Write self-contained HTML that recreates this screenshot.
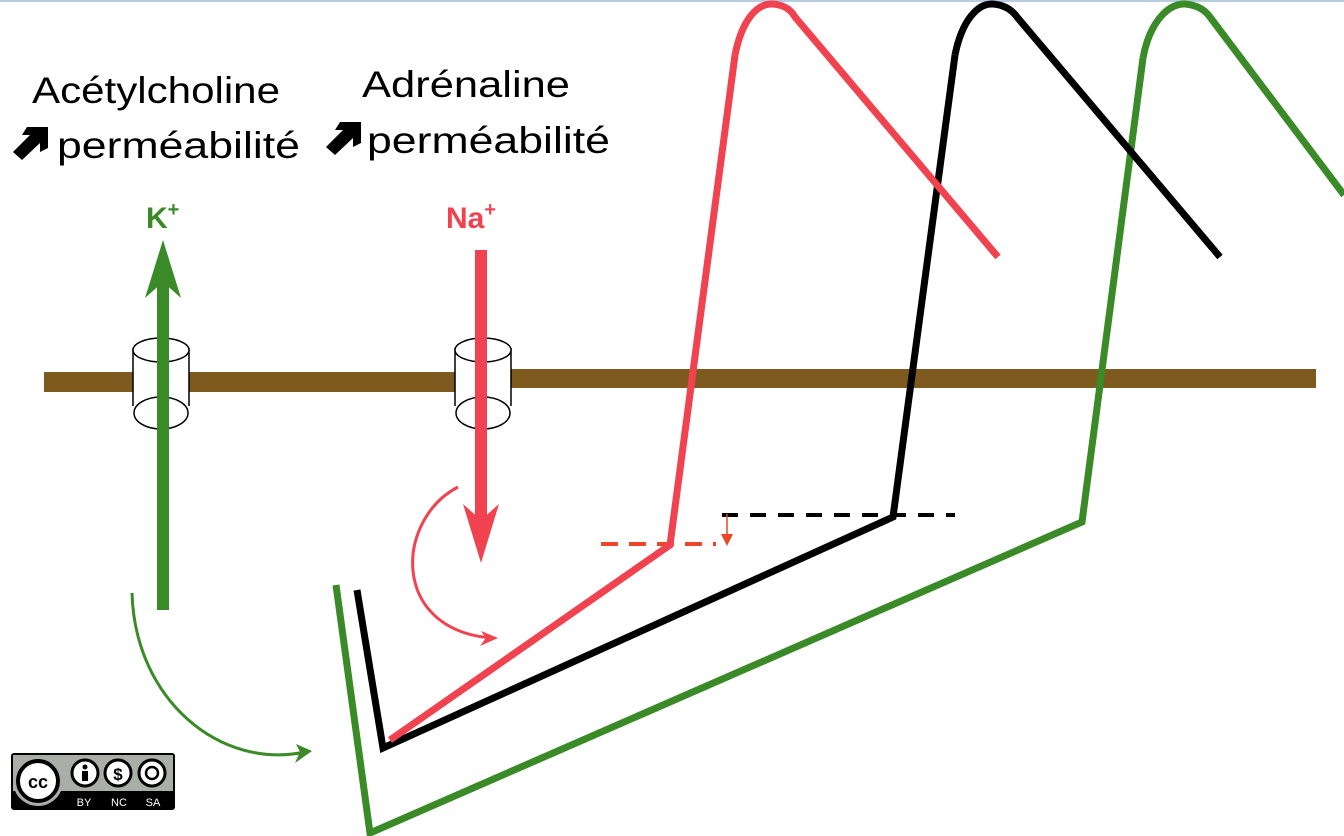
<!DOCTYPE html>
<html><head><meta charset="utf-8"><style>
html,body{margin:0;padding:0;background:#fff;width:1344px;height:836px;overflow:hidden}
svg{display:block}
text{font-family:"Liberation Sans",sans-serif}
</style></head><body>
<svg width="1344" height="836" viewBox="0 0 1344 836">
<rect x="0" y="0" width="1344" height="2" fill="#b8cde0"/>
<rect x="44" y="372" width="412" height="20" fill="#7f5a1e"/>
<rect x="508" y="369" width="808" height="19" fill="#7f5a1e"/>
<rect x="133" y="350" width="56" height="63" fill="#fff"/>
<line x1="133" y1="348" x2="133" y2="406" stroke="#000" stroke-width="1.5"/>
<line x1="189" y1="348" x2="189" y2="406" stroke="#000" stroke-width="1.5"/>
<ellipse cx="161" cy="413" rx="27" ry="16" fill="none" stroke="#000" stroke-width="1.5"/>
<ellipse cx="161" cy="350" rx="28" ry="12" fill="#fff" stroke="#000" stroke-width="1.5"/>
<rect x="455" y="350" width="56" height="63" fill="#fff"/>
<line x1="455" y1="348" x2="455" y2="406" stroke="#000" stroke-width="1.5"/>
<line x1="511" y1="348" x2="511" y2="406" stroke="#000" stroke-width="1.5"/>
<ellipse cx="483" cy="413" rx="27" ry="16" fill="none" stroke="#000" stroke-width="1.5"/>
<ellipse cx="483" cy="350" rx="28" ry="12" fill="#fff" stroke="#000" stroke-width="1.5"/>
<line x1="163" y1="610" x2="163" y2="280" stroke="#3a8a27" stroke-width="12"/>
<polygon points="163,240 181,298 163,282 145,298" fill="#3a8a27"/>
<line x1="481" y1="250" x2="481" y2="520" stroke="#f0434f" stroke-width="12"/>
<polygon points="481,563 499,504 481,520 463,504" fill="#f0434f"/>
<path d="M132,593 C135,700 220,770 305,752" fill="none" stroke="#3a8a27" stroke-width="3"/>
<polygon points="312,751 296,744 300,752 295,763" fill="#3a8a27"/>
<path d="M458,487 C395,520 390,630 492,638" fill="none" stroke="#f0434f" stroke-width="3"/>
<polygon points="498,638 481,631 486,638 480,646" fill="#f0434f"/>
<line x1="601" y1="544" x2="716" y2="544" stroke="#ef4527" stroke-width="4" stroke-dasharray="17,11"/>
<line x1="722" y1="515" x2="955" y2="515" stroke="#000" stroke-width="4" stroke-dasharray="16,12"/>
<line x1="727" y1="514" x2="727" y2="536" stroke="#ef4527" stroke-width="1.5"/>
<polygon points="721,534 733,534 727,546" fill="#ef4527"/>
<polyline points="336,585 370,833 1082,522 1143,58" fill="none" stroke="#3a8a27" stroke-width="7"/>
<path d="M1143,58 C1150,20 1170,3 1185,4 C1197,5 1205,10 1210,17 L1344,195" fill="none" stroke="#3a8a27" stroke-width="7"/>
<polyline points="357,590 383,748 893,517 955,55" fill="none" stroke="#000" stroke-width="7"/>
<path d="M955,55 C962,20 978,3 993,4 C1005,5 1012,10 1017,17 L1220,257" fill="none" stroke="#000" stroke-width="7"/>
<polyline points="390,740 670,545 735,55" fill="none" stroke="#f0434f" stroke-width="7"/>
<path d="M735,55 C742,20 757,3 773,4 C785,5 791,10 795,17 L998,257" fill="none" stroke="#f0434f" stroke-width="7"/>
<text x="32" y="103" font-size="37" textLength="248" lengthAdjust="spacingAndGlyphs" fill="#000">Acétylcholine</text>
<text x="57" y="158" font-size="37" textLength="243" lengthAdjust="spacingAndGlyphs" fill="#000">perméabilité</text>
<text x="362" y="97" font-size="37" textLength="208" lengthAdjust="spacingAndGlyphs" fill="#000">Adrénaline</text>
<text x="367" y="153" font-size="37" textLength="243" lengthAdjust="spacingAndGlyphs" fill="#000">perméabilité</text>
<g fill="#000">
<polygon points="13,152 30,135 22,135 27,127 48,127 48,148 40,152 40,143 22,160"/>
<polygon points="326,147 343,130 335,130 340,122 361,122 361,143 353,147 353,138 335,155"/>
</g>
<text x="146" y="228" font-size="30" font-weight="bold" fill="#3a8a27">K<tspan font-size="20" dy="-12">+</tspan></text>
<text x="446" y="228" font-size="30" font-weight="bold" fill="#f0434f">Na<tspan font-size="20" dy="-12">+</tspan></text>
<rect x="11" y="753" width="164" height="57" rx="3" fill="#000"/>
<rect x="13" y="755" width="160" height="36" fill="#a9aea6"/>
<circle cx="38" cy="781" r="25" fill="#a9aea6"/>
<circle cx="38" cy="781" r="20" fill="#fff" stroke="#000" stroke-width="4"/>
<text x="38" y="788" font-size="18" font-weight="bold" text-anchor="middle" fill="#000">cc</text>
<circle cx="85" cy="773" r="13" fill="#fff" stroke="#000" stroke-width="3"/>
<circle cx="85" cy="767" r="2.5" fill="#000"/><rect x="82" y="771" width="6" height="10" fill="#000"/>
<circle cx="118" cy="773" r="13" fill="#fff" stroke="#000" stroke-width="3"/>
<text x="118" y="780" font-size="17" font-weight="bold" text-anchor="middle" fill="#000">$</text>
<circle cx="152" cy="773" r="13" fill="#fff" stroke="#000" stroke-width="3"/>
<circle cx="152" cy="773" r="6" fill="none" stroke="#000" stroke-width="2.5"/>
<text x="84" y="806" font-size="11" text-anchor="middle" fill="#fff">BY</text>
<text x="119" y="806" font-size="11" text-anchor="middle" fill="#fff">NC</text>
<text x="153" y="806" font-size="11" text-anchor="middle" fill="#fff">SA</text>
</svg>
</body></html>
